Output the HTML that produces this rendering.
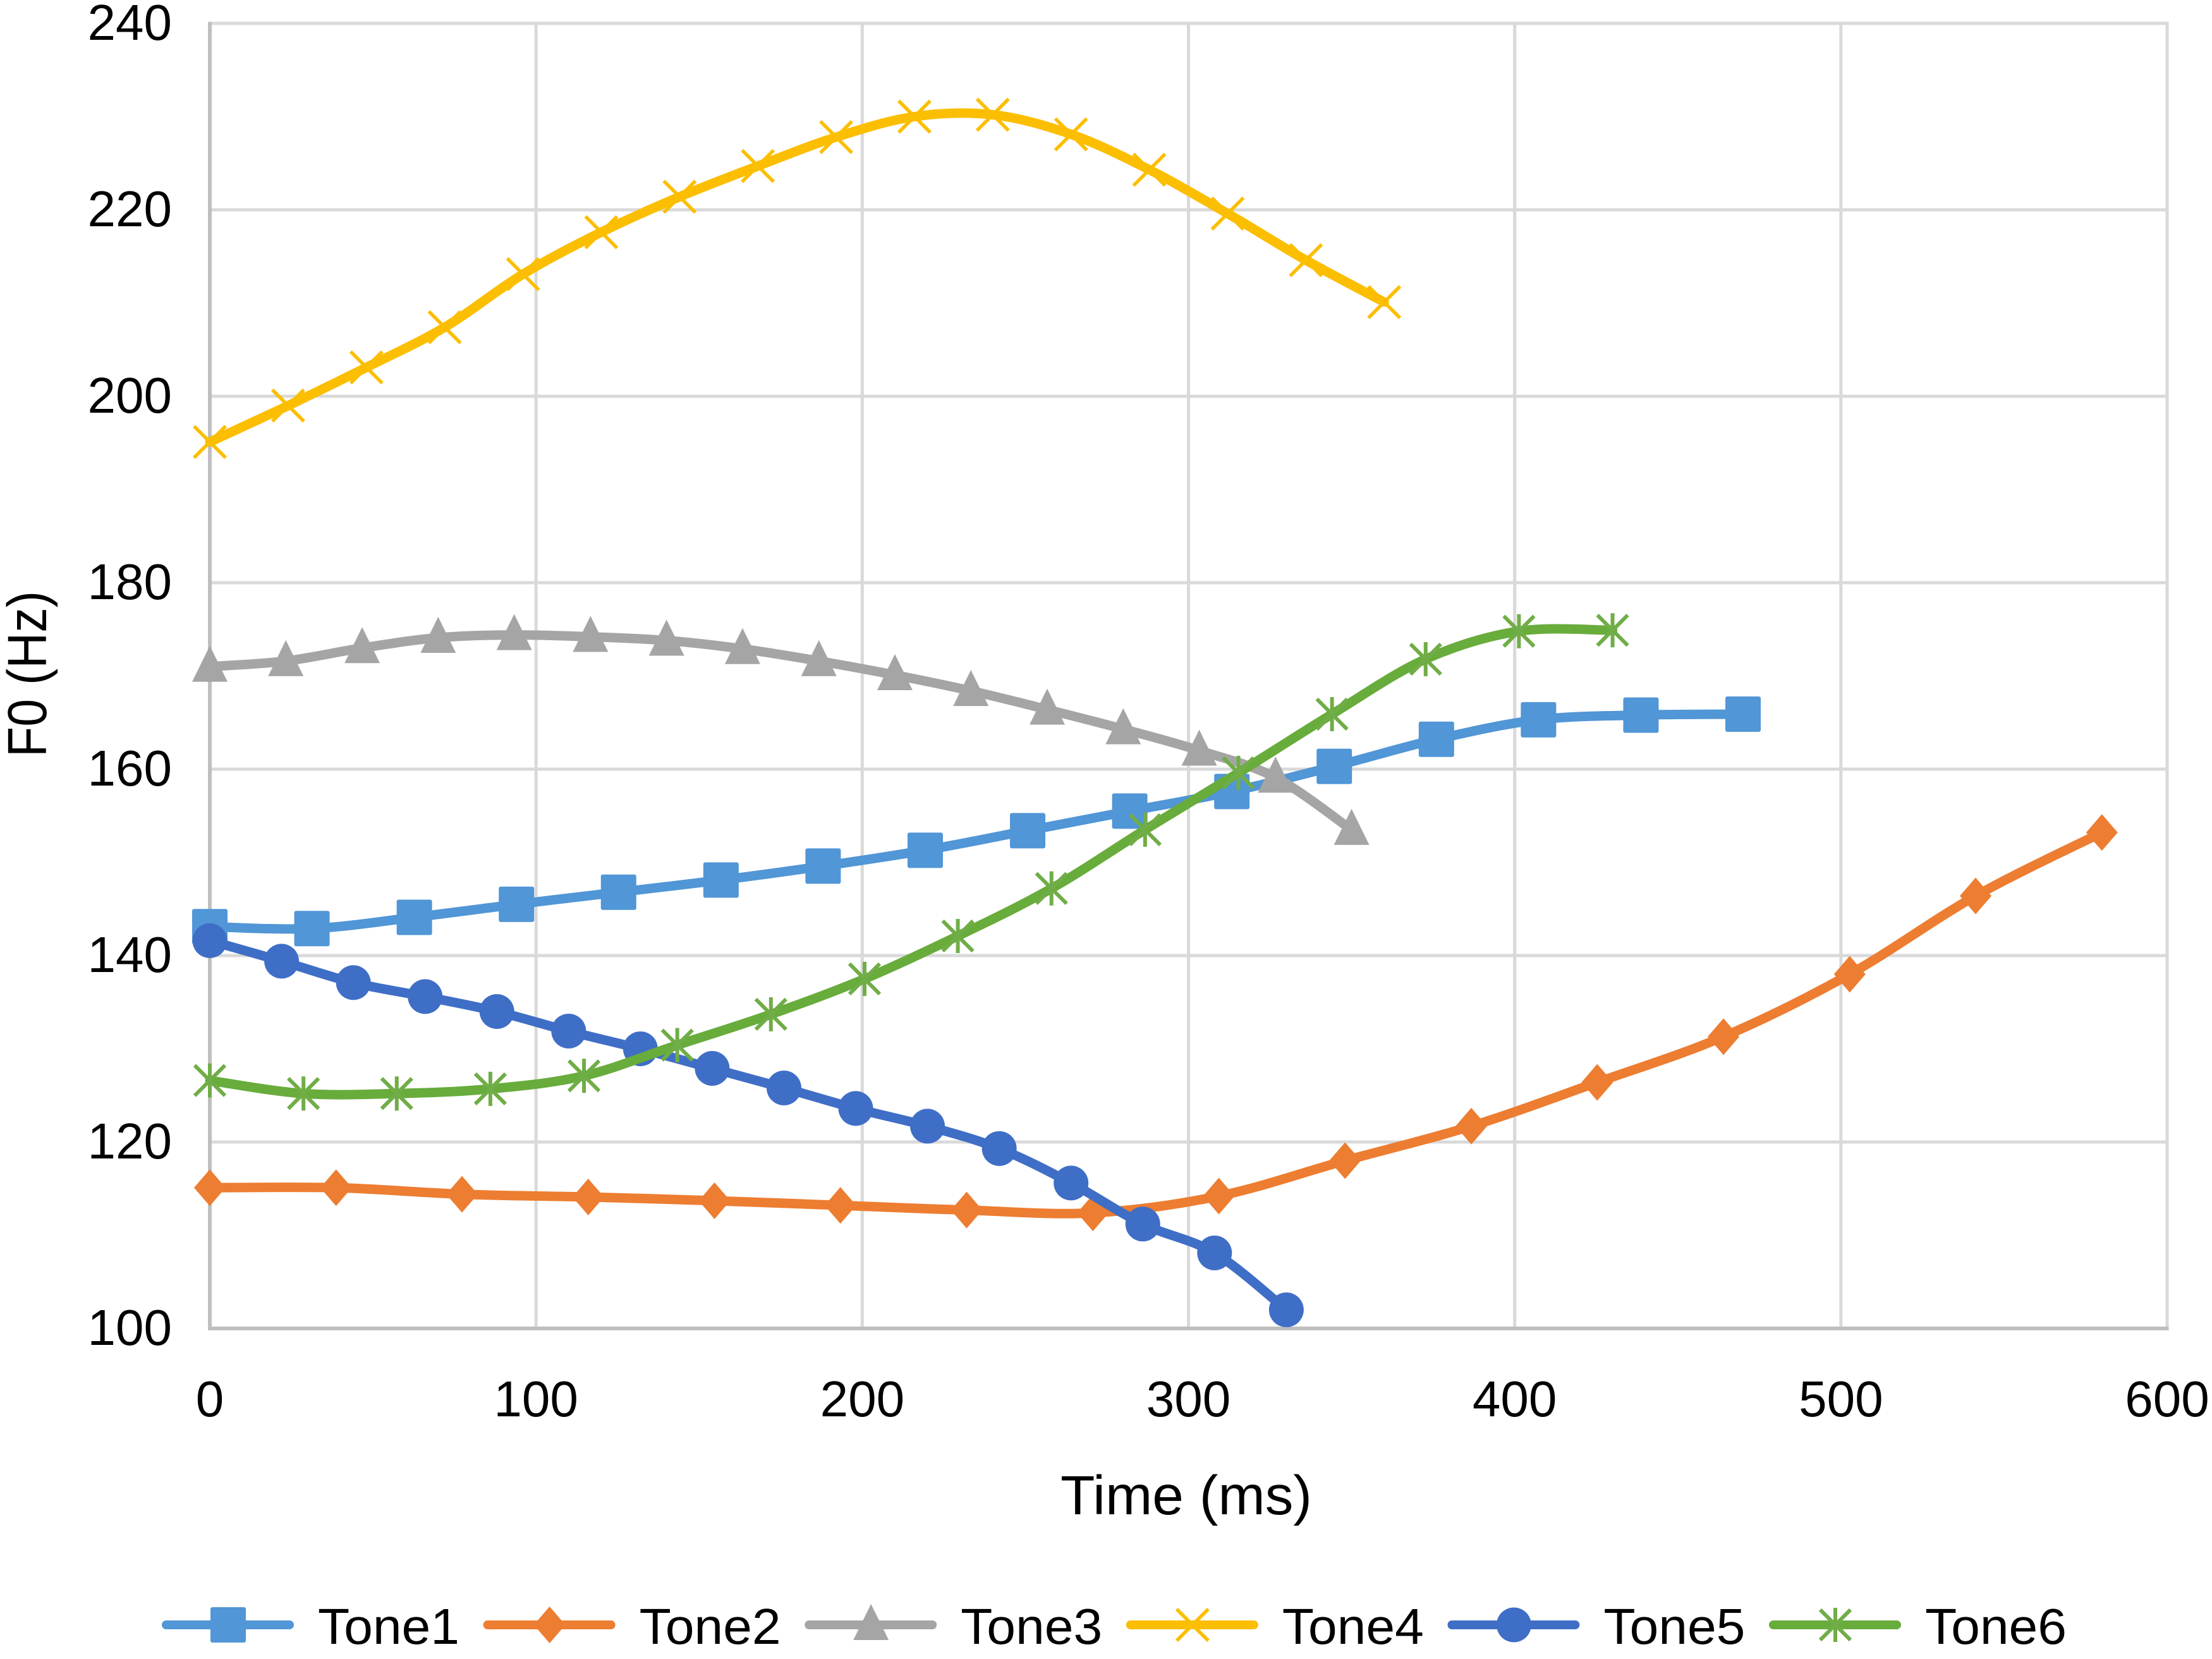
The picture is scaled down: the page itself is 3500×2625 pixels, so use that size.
<!DOCTYPE html>
<html>
<head>
<meta charset="utf-8">
<title>F0 contours by tone</title>
<style>
html,body{margin:0;padding:0;background:#fff;width:3500px;height:2625px;overflow:hidden}
svg{display:block}
text{font-family:"Liberation Sans",sans-serif;fill:#000}
</style>
</head>
<body>
<svg id="chart" xmlns="http://www.w3.org/2000/svg" width="3500" height="2625" viewBox="0 0 3500 2625">
  <rect x="0" y="0" width="3500" height="2625" fill="#fff"/>
  <g id="grid"></g>
  <g id="axes"></g>
  <g id="series"></g>
  <g id="legend"></g>
  <text x="1877" y="2396" font-size="87" text-anchor="middle" textLength="398" lengthAdjust="spacingAndGlyphs">Time (ms)</text>
  <text transform="translate(73,1066.5) rotate(-90)" x="0" y="0" font-size="87" text-anchor="middle" textLength="263" lengthAdjust="spacingAndGlyphs">F0 (Hz)</text>
</svg>
<script>
const xTicks = [0, 100, 200, 300, 400, 500, 600];
const yTicks = [100, 120, 140, 160, 180, 200, 220, 240];
const seriesNames = ["Tone1", "Tone2", "Tone3", "Tone4", "Tone5", "Tone6"];
const seriesColors = ["#5196D6", "#ED7D31", "#A5A5A5", "#FCBE00", "#3F6EC6", "#68AC3C"];
const seriesMarkers = ["square", "diamond", "triangle", "cross", "circle", "star"];

const tone1Time = [0, 31.3, 62.7, 94, 125.3, 156.7, 188, 219.3, 250.7, 282, 313.3, 344.7, 376, 407.3, 438.7, 470];
const tone1F0 = [143.1, 142.9, 144.1, 145.5, 146.8, 148.1, 149.6, 151.3, 153.4, 155.5, 157.6, 160.3, 163.2, 165.3, 165.8, 165.9];
const tone2Time = [0, 38.7, 77.3, 116, 154.7, 193.3, 232, 270.7, 309.3, 348, 386.7, 425.3, 464, 502.7, 541.3, 580];
const tone2F0 = [115.1, 115.1, 114.4, 114.1, 113.7, 113.2, 112.7, 112.4, 114.2, 118.0, 121.7, 126.4, 131.3, 138.0, 146.4, 153.2];
const tone3Time = [0, 23.3, 46.7, 70, 93.3, 116.7, 140, 163.3, 186.7, 210, 233.3, 256.7, 280, 303.3, 326.7, 350];
const tone3F0 = [171.0, 171.6, 173.0, 174.1, 174.4, 174.2, 173.8, 172.9, 171.6, 170.1, 168.4, 166.4, 164.3, 162.0, 159.1, 153.5];
const tone4Time = [0, 24, 48, 72, 96, 120, 144, 168, 192, 216, 240, 264, 288, 312, 336, 360];
const tone4F0 = [195.1, 199.0, 203.1, 207.4, 213.1, 217.6, 221.4, 224.7, 227.8, 230.0, 230.2, 228.1, 224.3, 219.6, 214.6, 210.1];
const tone5Time = [0, 22, 44, 66, 88, 110, 132, 154, 176, 198, 220, 242, 264, 286, 308, 330];
const tone5F0 = [141.6, 139.4, 137.1, 135.6, 134.0, 131.9, 130.0, 127.9, 125.8, 123.6, 121.7, 119.3, 115.6, 111.2, 108.1, 102.0];
const tone6Time = [0, 28.7, 57.3, 86, 114.7, 143.3, 172, 200.7, 229.3, 258, 286.7, 315.3, 344, 372.7, 401.3, 430];
const tone6F0 = [126.6, 125.2, 125.2, 125.7, 127.1, 130.4, 133.7, 137.5, 142.1, 147.2, 153.5, 159.6, 165.9, 171.8, 174.8, 174.9];

const allTimes = [tone1Time, tone2Time, tone3Time, tone4Time, tone5Time, tone6Time];
const allF0 = [tone1F0, tone2F0, tone3F0, tone4F0, tone5F0, tone6F0];

const NS = "http://www.w3.org/2000/svg";
const plotLeft = 332, plotRight = 3429, plotTop = 37, plotBottom = 2102;
const xMin = 0, xMax = 600, yMin = 100, yMax = 240;
function xScale(v) { return plotLeft + (v - xMin) / (xMax - xMin) * (plotRight - plotLeft); }
function yScale(v) { return plotBottom - (v - yMin) / (yMax - yMin) * (plotBottom - plotTop); }

function make(tag, attrs, parent) {
  const el = document.createElementNS(NS, tag);
  for (const k in attrs) el.setAttribute(k, attrs[k]);
  parent.appendChild(el);
  return el;
}

function smoothPath(pts) {
  let d = "M" + pts[0][0].toFixed(1) + " " + pts[0][1].toFixed(1);
  for (let i = 0; i < pts.length - 1; i++) {
    const p0 = pts[Math.max(0, i - 1)], p1 = pts[i], p2 = pts[i + 1], p3 = pts[Math.min(pts.length - 1, i + 2)];
    const c1x = p1[0] + (p2[0] - p0[0]) / 6, c1y = p1[1] + (p2[1] - p0[1]) / 6;
    const c2x = p2[0] - (p3[0] - p1[0]) / 6, c2y = p2[1] - (p3[1] - p1[1]) / 6;
    d += "C" + c1x.toFixed(1) + " " + c1y.toFixed(1) + " " + c2x.toFixed(1) + " " + c2y.toFixed(1) + " " + p2[0].toFixed(1) + " " + p2[1].toFixed(1);
  }
  return d;
}

function drawMarker(kind, cx, cy, color, parent) {
  let m;
  if (kind === "square") {
    m = make("rect", { x: cx - 28, y: cy - 28, width: 56, height: 56, rx: 3, fill: color }, parent);
  } else if (kind === "diamond") {
    m = make("polygon", { points: [cx, cy - 29, cx + 25, cy, cx, cy + 29, cx - 25, cy].join(" "), fill: color }, parent);
  } else if (kind === "triangle") {
    m = make("polygon", { points: [cx, cy - 33, cx + 28, cy + 24, cx - 28, cy + 24].join(" "), fill: color }, parent);
  } else if (kind === "circle") {
    m = make("circle", { cx: cx, cy: cy, r: 27.5, fill: color }, parent);
  } else if (kind === "cross") {
    const r = 25;
    m = make("path", { d: "M" + (cx - r) + " " + (cy - r) + "L" + (cx + r) + " " + (cy + r) + "M" + (cx - r) + " " + (cy + r) + "L" + (cx + r) + " " + (cy - r), stroke: color, "stroke-width": 5.5, fill: "none" }, parent);
  } else {
    const r = 24;
    m = make("path", { d: "M" + (cx - r) + " " + (cy - r) + "L" + (cx + r) + " " + (cy + r) + "M" + (cx - r) + " " + (cy + r) + "L" + (cx + r) + " " + (cy - r) + "M" + cx + " " + (cy - r - 3) + "L" + cx + " " + (cy + r + 3), stroke: "#70AD47", "stroke-width": 6, fill: "none" }, parent);
  }
  return m;
}

const gridG = document.getElementById("grid");
const axesG = document.getElementById("axes");
const seriesG = document.getElementById("series");
const legendG = document.getElementById("legend");

xTicks.forEach(function (t) {
  const x = xScale(t);
  if (t !== xMin) {
    const g = make("line", { x1: x, x2: x, y1: plotTop, y2: plotBottom, stroke: "#D9D9D9", "stroke-width": 5 }, gridG);
    
    
  }
  const lab = make("text", { x: x, y: 2241, "font-size": 80, "text-anchor": "middle" }, axesG);
  lab.textContent = t;
  
  
});

yTicks.forEach(function (t) {
  const y = yScale(t);
  if (t !== yMin) {
    const g = make("line", { x1: plotLeft, x2: plotRight + 2.5, y1: y, y2: y, stroke: "#D9D9D9", "stroke-width": 5 }, gridG);
    
    
  }
  const lab = make("text", { x: 272, y: y + 26, "font-size": 80, "text-anchor": "end" }, axesG);
  lab.textContent = t;
  
  
});

const yAxisLine = make("line", { x1: plotLeft, x2: plotLeft, y1: plotTop - 2.5, y2: plotBottom + 3, stroke: "#BFBFBF", "stroke-width": 6 }, axesG);


const xAxisLine = make("line", { x1: plotLeft, x2: plotRight + 2.5, y1: plotBottom, y2: plotBottom, stroke: "#BFBFBF", "stroke-width": 6 }, axesG);



seriesNames.forEach(function (name, s) {
  const color = seriesColors[s];
  const g = make("g", {}, seriesG);
  
  
  const pts = allTimes[s].map(function (t, i) { return [xScale(t), yScale(allF0[s][i])]; });
  const line = make("path", { d: smoothPath(pts), fill: "none", stroke: color, "stroke-width": 15, "stroke-linecap": "round", "stroke-linejoin": "round" }, g);
  
  
  pts.forEach(function (p, i) {
    const m = drawMarker(seriesMarkers[s], p[0], p[1], color, g);
    
    
  });

  const lx = 257 + s * 508.6;
  const ly = 2571;
  const entry = make("g", {}, legendG);
  
  
  const ll = make("line", { x1: lx + 6, x2: lx + 201, y1: ly, y2: ly, stroke: color, "stroke-width": 14, "stroke-linecap": "round" }, entry);
  
  
  const lm = drawMarker(seriesMarkers[s], lx + 104, ly, color, entry);
  
  
  const lt = make("text", { x: lx + 246, y: 2601, "font-size": 80, textLength: 224, lengthAdjust: "spacingAndGlyphs" }, entry);
  lt.textContent = name;
  
  
});
</script>
</body>
</html>
